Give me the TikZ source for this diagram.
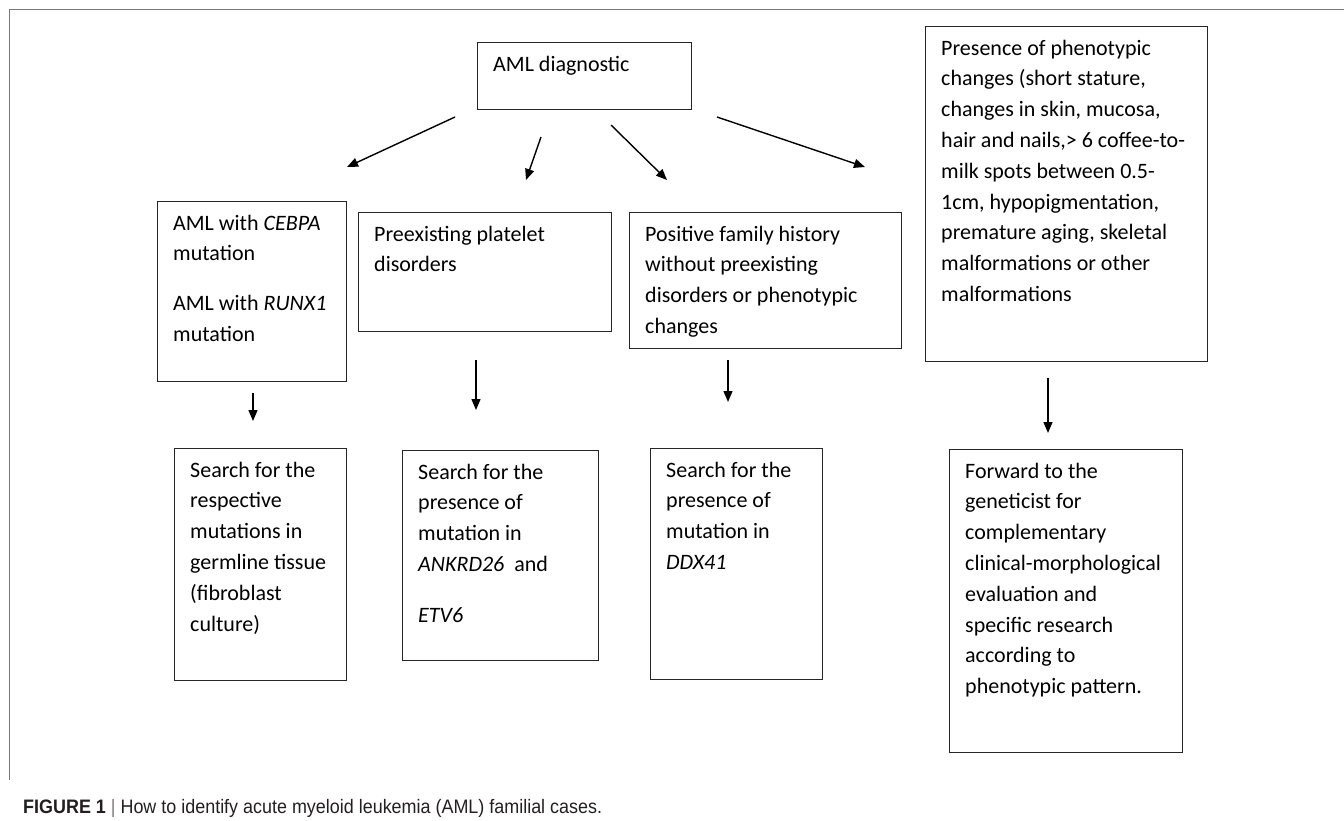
\documentclass[tikz,border=0pt]{standalone}
\usepackage{fontspec}
\setmainfont{Carlito}
\newfontfamily\capfont{Liberation Sans}
\usetikzlibrary{arrows.meta}
\definecolor{framegray}{RGB}{120,120,120}
\definecolor{capblack}{RGB}{35,31,32}
\tikzset{
  box/.style={draw=black!85, line width=1.4pt, anchor=north west, inner sep=0pt},
  txt/.style={anchor=north west, inner sep=0pt, align=left,
    font=\fontsize{22}{30.8}\selectfont, xshift=16pt, yshift=-7.4pt},
  arr/.style={line width=1.4pt, -{Triangle[length=11pt,width=9pt]}}
}
\begin{document}
\begin{tikzpicture}[x=1pt,y=-1pt]
\useasboundingbox (0,0) rectangle (1344,820);
\draw[framegray, line width=1pt] (1344,9) -- (9,9) -- (9,780);

\node[box, minimum width=214, minimum height=67] (diag) at (477,42) {};
\node[txt] (diagt) at (diag.north west) {\strut AML diagnostic};

\node[box, minimum width=282, minimum height=335] (pheno) at (925,26) {};
\node[txt] (phenot) at (pheno.north west) {\strut Presence of phenotypic\\
  changes (short stature,\\ changes in skin, mucosa,\\
  hair and nails,> 6 coffee-to-\\ milk spots between 0.5-\\
  1cm, hypopigmentation,\\ premature aging, skeletal\\
  malformations or other\\ malformations};

\node[box, minimum width=189, minimum height=180] (mut) at (157,201) {};
\node[txt] (mutt) at (mut.north west) {\strut AML with \textit{CEBPA}\\ mutation\\[19pt]
  AML with \textit{RUNX1}\\ mutation};

\node[box, minimum width=253, minimum height=119] (plat) at (358,212) {};
\node[txt] (platt) at (plat.north west) {\strut Preexisting platelet\\ disorders};

\node[box, minimum width=272, minimum height=136] (fam) at (629,212) {};
\node[txt] (famt) at (fam.north west) {\strut Positive family history\\
  without preexisting\\ disorders or phenotypic\\ changes};

\node[box, minimum width=172, minimum height=232] (srcha) at (174,448) {};
\node[txt] (srchat) at (srcha.north west) {\strut Search for the\\ respective\\
  mutations in\\ germline tissue\\ (fibroblast\\ culture)};

\node[box, minimum width=196, minimum height=210] (srchb) at (402,450) {};
\node[txt] (srchbt) at (srchb.north west) {\strut Search for the\\ presence of\\
  mutation in\\ \textit{ANKRD26}\ \ and\\[20pt] \textit{ETV6}};

\node[box, minimum width=172, minimum height=231] (srchc) at (650,448) {};
\node[txt] (srchct) at (srchc.north west) {\strut Search for the\\ presence of\\
  mutation in\\ \textit{DDX41}};

\node[box, minimum width=233, minimum height=303] (fwd) at (949,449) {};
\node[txt] (fwdt) at (fwd.north west) {\strut Forward to the\\ geneticist for\\
  complementary\\ clinical-morphological\\ evaluation and\\
  specific research\\ according to\\ phenotypic pattern.};

\coordinate (a1s) at (455,117); \coordinate (a1e) at (347,167);
\coordinate (a2s) at (541,137); \coordinate (a2e) at (526,180);
\coordinate (a3s) at (611,125); \coordinate (a3e) at (667,180);
\coordinate (a4s) at (717,117); \coordinate (a4e) at (865,167);
\draw[arr] (a1s) -- (a1e);
\draw[arr] (a2s) -- (a2e);
\draw[arr] (a3s) -- (a3e);
\draw[arr] (a4s) -- (a4e);

\coordinate (b1s) at (253,393); \coordinate (b1e) at (253,421);
\coordinate (b2s) at (476,360); \coordinate (b2e) at (476,410);
\coordinate (b3s) at (728,360); \coordinate (b3e) at (728,402);
\coordinate (b4s) at (1048,378); \coordinate (b4e) at (1048,433);
\draw[arr] (b1s) -- (b1e);
\draw[arr] (b2s) -- (b2e);
\draw[arr] (b3s) -- (b3e);
\draw[arr] (b4s) -- (b4e);

\node[anchor=base west, inner sep=0pt, text=capblack,
  font=\capfont\fontsize{19.5}{22}\selectfont] (cap) at (23,813)
  {\scalebox{0.92}[1]{\textbf{FIGURE 1} {\color{framegray}|} How to identify acute myeloid leukemia (AML) familial cases.}};
\end{tikzpicture}
\end{document}
